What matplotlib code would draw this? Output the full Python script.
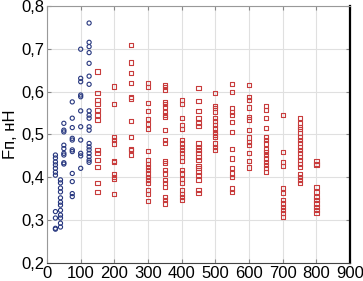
import numpy as np
import matplotlib
matplotlib.use("Agg")
import matplotlib.pyplot as plt

plt.rcParams['font.family'] = ['Liberation Sans', 'DejaVu Sans']

# blue circles: (x, list of y)
blue_x = [25, 40, 50, 75, 100, 125]
blue_y = [
    [0.452, 0.445, 0.436, 0.429, 0.421, 0.412, 0.405, 0.32, 0.305, 0.281, 0.279],
    [0.394, 0.387, 0.375, 0.366, 0.352, 0.342, 0.335, 0.323, 0.312, 0.305, 0.293, 0.284],
    [0.526, 0.51, 0.506, 0.475, 0.467, 0.456, 0.452, 0.434, 0.431],
    [0.576, 0.538, 0.516, 0.491, 0.487, 0.464, 0.46, 0.409, 0.39, 0.362, 0.355],
    [0.699, 0.631, 0.623, 0.592, 0.588, 0.555, 0.518, 0.487, 0.456, 0.45, 0.421],
    [0.76, 0.715, 0.705, 0.691, 0.666, 0.636, 0.617, 0.555, 0.545, 0.538, 0.518,
     0.51, 0.479, 0.471, 0.464, 0.456, 0.448, 0.44, 0.435],
]

# red squares
red_x = [150, 200, 250, 300, 350, 400, 450, 500, 550, 600, 650, 700, 750, 800]
red_y = [
    [0.647, 0.596, 0.58, 0.572, 0.557, 0.545, 0.534, 0.464, 0.456, 0.44, 0.425, 0.386, 0.366],
    [0.612, 0.571, 0.495, 0.487, 0.479, 0.438, 0.435, 0.408, 0.401, 0.397, 0.362],
    [0.709, 0.668, 0.643, 0.621, 0.587, 0.584, 0.532, 0.495, 0.467, 0.464, 0.452],
    [0.621, 0.61, 0.574, 0.555, 0.536, 0.524, 0.512, 0.462, 0.44, 0.432, 0.425, 0.417,
     0.409, 0.401, 0.393, 0.386, 0.37, 0.362, 0.344],
    [0.615, 0.61, 0.604, 0.576, 0.571, 0.565, 0.553, 0.545, 0.541, 0.51, 0.487, 0.481,
     0.438, 0.434, 0.417, 0.409, 0.393, 0.386, 0.378, 0.355, 0.347, 0.339],
    [0.58, 0.572, 0.538, 0.522, 0.512, 0.487, 0.479, 0.471, 0.464, 0.456, 0.448, 0.439,
     0.417, 0.409, 0.397, 0.386, 0.37, 0.362, 0.355, 0.348],
    [0.609, 0.579, 0.555, 0.538, 0.526, 0.52, 0.479, 0.471, 0.464, 0.456, 0.448, 0.44,
     0.427, 0.421, 0.413, 0.405, 0.393, 0.37, 0.364],
    [0.596, 0.566, 0.561, 0.553, 0.538, 0.531, 0.522, 0.514, 0.506, 0.5, 0.495, 0.479,
     0.471, 0.464],
    [0.617, 0.6, 0.561, 0.553, 0.545, 0.53, 0.506, 0.467, 0.444, 0.421, 0.409, 0.4,
     0.374, 0.365],
    [0.615, 0.587, 0.58, 0.563, 0.541, 0.535, 0.51, 0.493, 0.483, 0.475, 0.457, 0.438, 0.423],
    [0.566, 0.557, 0.538, 0.516, 0.495, 0.487, 0.479, 0.465, 0.46, 0.452, 0.444, 0.436,
     0.429, 0.421, 0.413],
    [0.545, 0.46, 0.436, 0.427, 0.376, 0.364, 0.347, 0.339, 0.331, 0.323, 0.316, 0.308],
    [0.538, 0.526, 0.518, 0.512, 0.504, 0.495, 0.488, 0.481, 0.471, 0.464, 0.456, 0.448,
     0.44, 0.432, 0.425, 0.408, 0.401, 0.393, 0.386],
    [0.439, 0.432, 0.428, 0.378, 0.366, 0.355, 0.347, 0.339, 0.331, 0.323, 0.316],
]

xticks = [0, 100, 200, 300, 400, 500, 600, 700, 800, 900]
yticks = [0.2, 0.3, 0.4, 0.5, 0.6, 0.7, 0.8]

fig = plt.figure(figsize=(3.63, 2.81), dpi=100)
ax = fig.add_axes([0.1295, 0.064, 0.835, 0.915])

for x, ys in zip(blue_x, blue_y):
    ax.scatter([x] * len(ys), ys, s=9, marker='o', facecolors='none',
               edgecolors='#26367e', linewidths=0.8, zorder=3)
for x, ys in zip(red_x, red_y):
    ax.scatter([x] * len(ys), ys, s=9, marker='s', facecolors='none',
               edgecolors='#c83c3c', linewidths=0.8, zorder=3)

ax.set_xlim(0, 900)
ax.set_ylim(0.2, 0.8)
ax.set_xticks(xticks)
ax.set_yticks(yticks)
ax.set_yticklabels([('%.1f' % v).replace('.', ',') for v in yticks])
ax.grid(True, color='#e0e0e0', linewidth=0.8)
ax.set_axisbelow(True)
ax.tick_params(direction='in', length=3, color='#888888', labelsize=12,
               top=True, right=True, pad=2)
ax.set_ylabel('Fп, нН', fontsize=12, labelpad=2)

for s in ['left', 'top']:
    ax.spines[s].set_color('#999999')
ax.spines['bottom'].set_color('#444444')
ax.spines['right'].set_color('black')
ax.spines['right'].set_linewidth(1.6)

fig.savefig('out.png', dpi=100)
